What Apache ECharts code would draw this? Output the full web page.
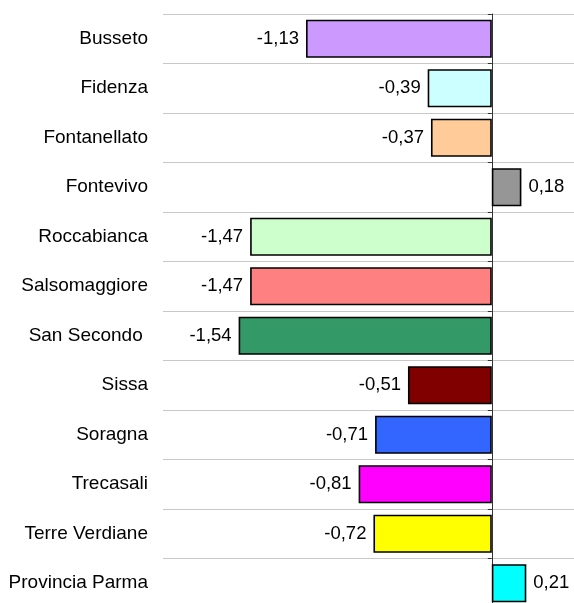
<!DOCTYPE html>
<html>
<head>
<meta charset="utf-8">
<script src="https://cdn.jsdelivr.net/npm/echarts@6/dist/echarts.min.js"></script>
<style>
  html, body { margin: 0; padding: 0; background: #fff; overflow: hidden; }
  /* più alto della finestra: l'ultima fascia viene tagliata come nell'originale */
  #chart { width: 574px; height: 620px; }
</style>
</head>
<body>
<div id="chart"></div>
<script>
// comuni, dall'alto in basso
const comuni = ["Busseto", "Fidenza", "Fontanellato", "Fontevivo", "Roccabianca", "Salsomaggiore",
  "San Secondo ", "Sissa", "Soragna", "Trecasali", "Terre Verdiane", "Provincia Parma"];
const valori = [-1.13, -0.39, -0.37, 0.18, -1.47, -1.47, -1.54, -0.51, -0.71, -0.81, -0.72, 0.21];
const colori = ["#cc99ff", "#ccffff", "#ffcc99", "#969696", "#ccffcc", "#ff8080",
  "#339966", "#800000", "#3366ff", "#ff00ff", "#ffff00", "#00ffff"];

const myChart = echarts.init(document.getElementById("chart"));

const dati = valori.map(function (v, i) {
  return {
    value: v,
    itemStyle: { color: colori[i] },
    label: { position: v < 0 ? "left" : "right" }
  };
});

const option = {
  animation: false,
  textStyle: { fontFamily: "Liberation Sans, Arial, sans-serif" },
  grid: { left: 163, right: 0, top: 14, height: 594 },
  xAxis: {
    type: "value",
    min: -2,
    max: 0.5,
    axisLine: { show: false },
    axisTick: { show: false },
    axisLabel: { show: false },
    splitLine: { show: false }
  },
  yAxis: [
    {
      type: "category",
      data: comuni,
      inverse: true,
      position: "left",
      axisLine: { show: false, onZero: false },
      axisTick: { show: false },
      axisLabel: { color: "#000", fontSize: 19, margin: 15 },
      splitLine: { show: true, lineStyle: { color: "#c8c8c8", width: 1 } }
    },
    {
      type: "category",
      data: comuni,
      inverse: true,
      position: "left",
      axisLine: { show: true, onZero: true, lineStyle: { color: "#333", width: 1 } },
      axisTick: { show: true, length: 4, lineStyle: { color: "#333" } },
      axisLabel: { show: false },
      splitLine: { show: false }
    }
  ],
  series: [
    {
      type: "bar",
      yAxisIndex: 0,
      data: dati,
      barCategoryGap: "23%",
      itemStyle: { borderColor: "#000", borderWidth: 1.6 },
      label: {
        show: true,
        distance: 7,
        color: "#000",
        fontSize: 18.5,
        formatter: function (p) {
          return p.value.toFixed(2).replace(".", ",");
        }
      }
    }
  ]
};

myChart.setOption(option);
</script>
</body>
</html>
